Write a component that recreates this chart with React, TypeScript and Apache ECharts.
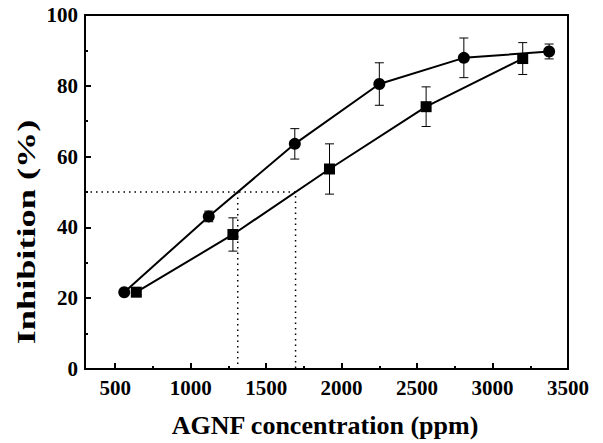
import React, { useEffect, useRef } from "react";
import * as echarts from "echarts";

const circleX = [560, 1120, 1690, 2250, 2810, 3375];
const circleY = [21.7, 43.1, 63.6, 80.5, 87.9, 89.7];
const circleErr = [0.8, 1.5, 4.3, 6.0, 5.6, 2.1];

const squareX = [640, 1280, 1920, 2560, 3200];
const squareY = [21.7, 38.0, 56.5, 74.1, 87.7];
const squareErr = [0.6, 4.7, 7.1, 5.6, 4.5];

const ic50Circle = 1312;
const ic50Square = 1695;
const halfLevel = 50;

const xMajor = [500, 1000, 1500, 2000, 2500, 3000, 3500];
const xMinor = [750, 1250, 1750, 2250, 2750, 3250];

const xTitle = "AGNF concentration (ppm)";
const yTitle = "Inhibition (%)";

const FONT = "Liberation Serif";

export default function App() {
  const ref = useRef<HTMLDivElement>(null);
  useEffect(() => {
    if (!ref.current) return;
    const chart = echarts.init(ref.current, undefined, { renderer: "svg" });
    const errData = (xs: number[], ys: number[], es: number[]) =>
      xs.map((x, i) => [x, ys[i] - es[i], ys[i] + es[i]]);
    const renderErr = (params: any, api: any) => {
      const x = api.value(0);
      const lo = api.coord([x, api.value(1)]);
      const hi = api.coord([x, api.value(2)]);
      const w = 4.5;
      const style = { stroke: "#000", lineWidth: 1 };
      return {
        type: "group",
        children: [
          { type: "line", shape: { x1: lo[0], y1: lo[1], x2: hi[0], y2: hi[1] }, style },
          { type: "line", shape: { x1: lo[0] - w, y1: lo[1], x2: lo[0] + w, y2: lo[1] }, style },
          { type: "line", shape: { x1: hi[0] - w, y1: hi[1], x2: hi[0] + w, y2: hi[1] }, style },
        ],
      };
    };
    const labelStyle = { fontFamily: FONT, fontWeight: "bold", fontSize: 21, color: "#000" };
    chart.setOption({
      animation: false,
      backgroundColor: "#fff",
      grid: { left: 85, right: 35, top: 15, bottom: 74, show: true, borderColor: "#000", borderWidth: 2, backgroundColor: "transparent" },
      graphic: [
        {
          type: "text",
          x: 325,
          y: 425,
          style: { text: xTitle, fontFamily: FONT, fontWeight: "bold", fontSize: 26, fill: "#000", align: "center", verticalAlign: "middle" },
        },
        {
          type: "text",
          x: 27,
          y: 232,
          rotation: Math.PI / 2,
          scaleX: 1.45,
          style: { text: yTitle, fontFamily: FONT, fontWeight: "bold", fontSize: 25, fill: "#000", align: "center", verticalAlign: "middle" },
        },
      ],
      xAxis: [
        {
          type: "value",
          min: 300,
          max: 3500,
          axisLine: { show: true, lineStyle: { color: "#000", width: 2 } },
          axisTick: { show: true, inside: true, length: 6, lineStyle: { color: "#000", width: 2 }, customValues: xMajor },
          axisLabel: { ...labelStyle, margin: 8, customValues: xMajor, formatter: (v: number) => String(v) },
          splitLine: { show: false },
        },
        {
          type: "value",
          min: 300,
          max: 3500,
          position: "bottom",
          axisLine: { show: false },
          axisTick: { show: true, inside: true, length: 3, lineStyle: { color: "#000", width: 2 }, customValues: xMinor },
          axisLabel: { show: false, customValues: xMinor },
          splitLine: { show: false },
        },
      ],
      yAxis: {
        type: "value",
        min: 0,
        max: 100,
        interval: 20,
        axisLine: { show: true, lineStyle: { color: "#000", width: 2 } },
        axisTick: { show: true, inside: true, length: 6, lineStyle: { color: "#000", width: 2 } },
        minorTick: { show: true, splitNumber: 2, length: 3, lineStyle: { color: "#000", width: 2 } },
        axisLabel: { ...labelStyle, margin: 7 },
        splitLine: { show: false },
      },
      series: [
        {
          type: "line",
          data: [[300, halfLevel], [ic50Square, halfLevel], [ic50Square, 0]],
          symbol: "none",
          lineStyle: { color: "#000", width: 1.5, type: [1.5, 4] },
          silent: true,
        },
        {
          type: "line",
          data: [[ic50Circle, halfLevel], [ic50Circle, 0]],
          symbol: "none",
          lineStyle: { color: "#000", width: 1.5, type: [1.5, 4] },
          silent: true,
        },
        {
          type: "custom",
          renderItem: renderErr,
          data: errData(circleX, circleY, circleErr),
          encode: { x: 0, y: [1, 2] },
          z: 1,
        },
        {
          type: "custom",
          renderItem: renderErr,
          data: errData(squareX, squareY, squareErr),
          encode: { x: 0, y: [1, 2] },
          z: 1,
        },
        {
          type: "line",
          data: circleX.map((x, i) => [x, circleY[i]]),
          symbol: "circle",
          symbolSize: 12,
          itemStyle: { color: "#000" },
          lineStyle: { color: "#000", width: 2 },
          z: 3,
        },
        {
          type: "line",
          data: squareX.map((x, i) => [x, squareY[i]]),
          symbol: "rect",
          symbolSize: 11,
          itemStyle: { color: "#000" },
          lineStyle: { color: "#000", width: 2 },
          z: 3,
        },
      ],
    });
    return () => chart.dispose();
  }, []);
  return <div ref={ref} style={{ width: 603, height: 443, position: "absolute", left: 0, top: 0 }} />;
}
